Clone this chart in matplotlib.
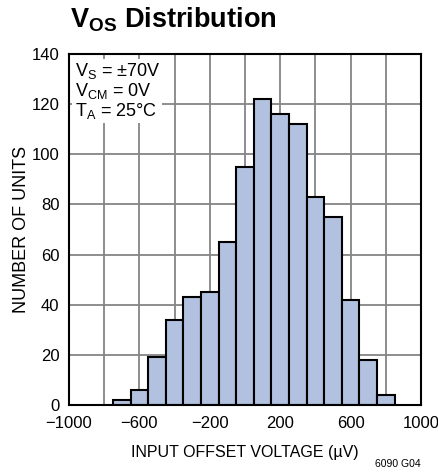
import numpy as np
import matplotlib
matplotlib.use("Agg")
import matplotlib.pyplot as plt

plt.rcParams['font.family'] = ['Liberation Sans', 'DejaVu Sans']
plt.rcParams['mathtext.fontset'] = 'custom'
plt.rcParams['mathtext.rm'] = 'Liberation Sans'
plt.rcParams['mathtext.bf'] = 'Liberation Sans:bold'

# histogram data: bin centres (uV) and counts
bin_centers = [-700, -600, -500, -400, -300, -200, -100, 0, 100, 200, 300, 400, 500, 600, 700, 800]
counts = [2, 6, 19, 34, 43, 45, 65, 95, 122, 116, 112, 83, 75, 42, 18, 4]
bin_width = 100

x_ticks = [-1000, -800, -600, -400, -200, 0, 200, 400, 600, 800, 1000]
x_labels = ['\u22121000', '', '\u2212600', '', '\u2212200', '', '200', '', '600', '', '1000']
y_ticks = [0, 20, 40, 60, 80, 100, 120, 140]

fig = plt.figure(figsize=(4.39, 4.73), dpi=100)
ax = fig.add_axes([69/439, 68/473, 352/439, 351/473])

ax.bar(bin_centers, counts, width=bin_width, color='#b1c1df',
       edgecolor='black', linewidth=1.5, zorder=3)

ax.set_xlim(-1000, 1000)
ax.set_ylim(0, 140)
ax.set_xticks(x_ticks)
ax.set_xticklabels(x_labels)
ax.set_yticks(y_ticks)
ax.tick_params(length=0, labelsize=12)
ax.tick_params(axis='x', pad=8)
ax.tick_params(axis='y', pad=7)
ax.grid(True, color='#858585', linewidth=1.3, zorder=0)
for s in ax.spines.values():
    s.set_linewidth(1.5)
    s.set_zorder(4)

ax.set_xlabel('INPUT OFFSET VOLTAGE (\u00b5V)', fontsize=11.5, labelpad=10)
ax.set_ylabel('NUMBER OF UNITS', fontsize=13, labelpad=1)

ax.text(0.016, 0.98, '$\\mathregular{V_S}$ = \u00b170V\n$\\mathregular{V_{CM}}$ = 0V\n$\\mathregular{T_A}$ = 25\u00b0C',
        transform=ax.transAxes, fontsize=13, va='top', ha='left', linespacing=1.0,
        bbox=dict(facecolor='white', edgecolor='none', pad=1.5), zorder=5)

fig.text(70/439, 1 - 20/473, '$\\mathbf{V_{OS}}$ Distribution', fontsize=19.5,
         fontweight='bold', va='center', ha='left')
fig.text(421/439, 1 - 464/473, '6090 G04', fontsize=7.5, ha='right', va='center')

fig.savefig('out.png', dpi=100)
